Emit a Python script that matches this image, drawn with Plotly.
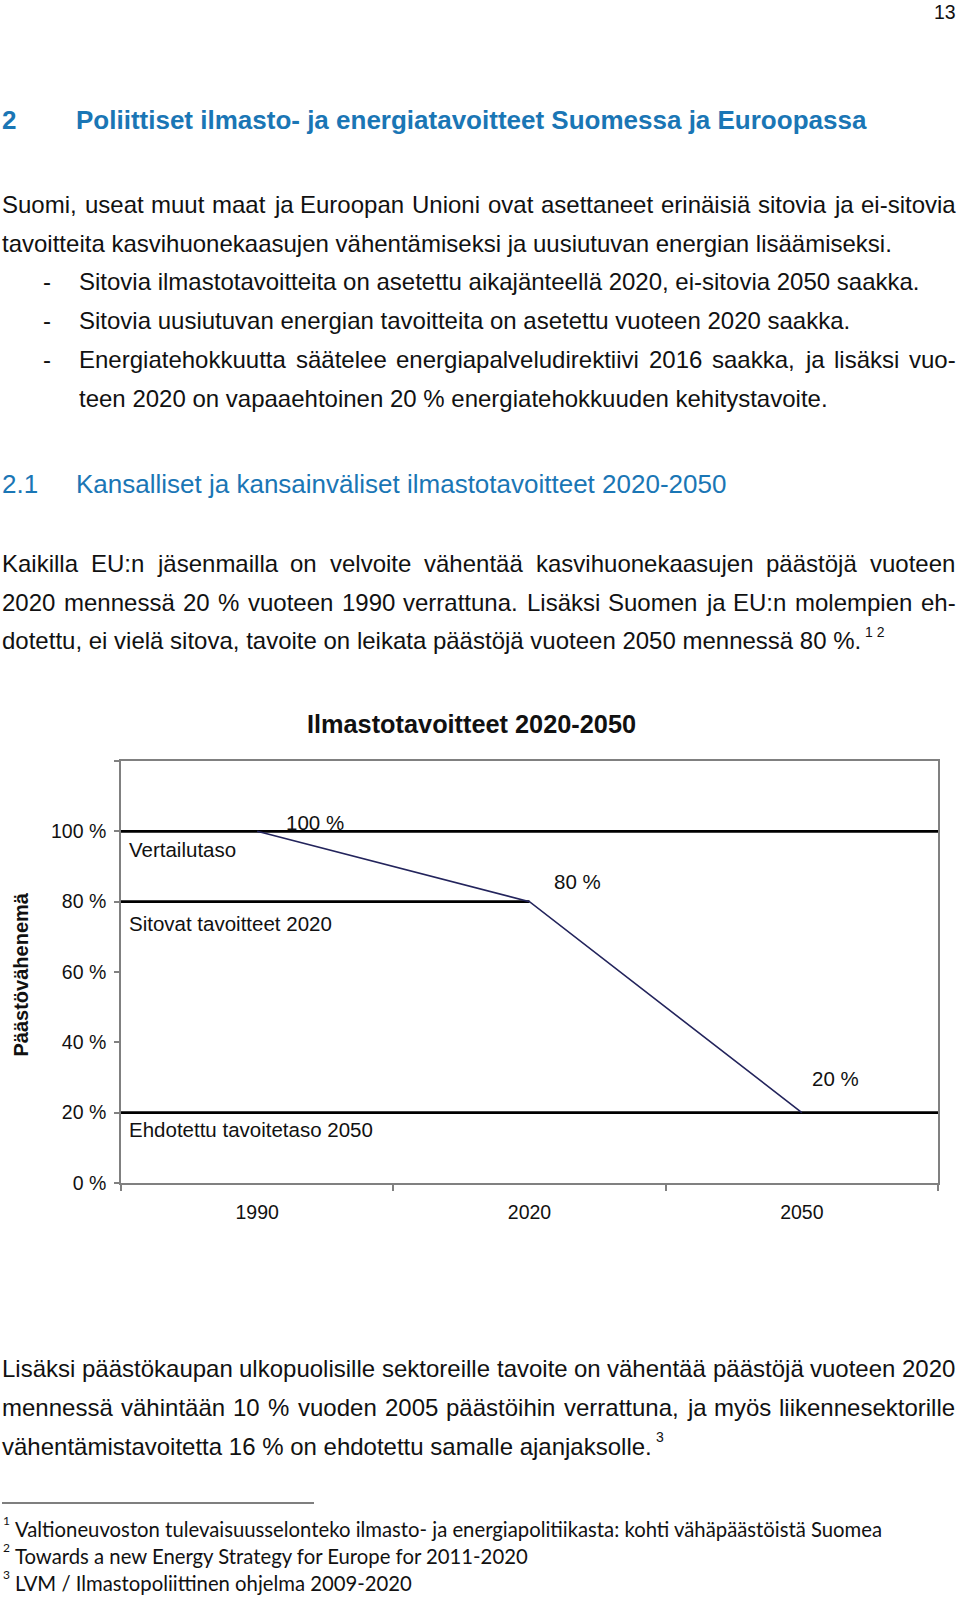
import plotly.graph_objects as go

# ---------------- data ----------------
years = ["1990", "2020", "2050"]
emissions = [100, 80, 20]
emission_labels = ["100 %", "80 %", "20 %"]
target_levels = [100, 80, 20]
target_names = ["Vertailutaso", "Sitovat tavoitteet 2020", "Ehdotettu tavoitetaso 2050"]
target_ends = [None, "2020", None]          # None = across the whole plot
y_ticks = [0, 20, 40, 60, 80, 100, 120]
y_tick_labels = ["0 %", "20 %", "40 %", "60 %", "80 %", "100 %", ""]
chart_title = "Ilmastotavoitteet 2020-2050"
y_title = "Päästövähenemä"

page_number = "13"
heading_number = "2"
heading = "Poliittiset ilmasto- ja energiatavoitteet Suomessa ja Euroopassa"
intro_lines = [
    ("Suomi, useat muut maat ja Euroopan Unioni ovat asettaneet erinäisiä sitovia ja ei-sitovia", True),
    ("tavoitteita kasvihuonekaasujen vähentämiseksi ja uusiutuvan energian lisäämiseksi.", False),
]
bullet_lines = [
    ("-", "Sitovia ilmastotavoitteita on asetettu aikajänteellä 2020, ei-sitovia 2050 saakka.", False),
    ("-", "Sitovia uusiutuvan energian tavoitteita on asetettu vuoteen 2020 saakka.", False),
    ("-", "Energiatehokkuutta säätelee energiapalveludirektiivi 2016 saakka, ja lisäksi vuo-", True),
    ("", "teen 2020 on vapaaehtoinen 20 % energiatehokkuuden kehitystavoite.", False),
]
subheading_number = "2.1"
subheading = "Kansalliset ja kansainväliset ilmastotavoitteet 2020-2050"
para2_lines = [
    ("Kaikilla EU:n jäsenmailla on velvoite vähentää kasvihuonekaasujen päästöjä vuoteen", True),
    ("2020 mennessä 20 % vuoteen 1990 verrattuna. Lisäksi Suomen ja EU:n molempien eh-", True),
    ("dotettu, ei vielä sitova, tavoite on leikata päästöjä vuoteen 2050 mennessä 80 %.", False),
]
para2_sup = "1 2"
para3_lines = [
    ("Lisäksi päästökaupan ulkopuolisille sektoreille tavoite on vähentää päästöjä vuoteen 2020", True),
    ("mennessä vähintään 10 % vuoden 2005 päästöihin verrattuna, ja myös liikennesektorille", True),
    ("vähentämistavoitetta 16 % on ehdotettu samalle ajanjaksolle.", False),
]
para3_sup = "3"
footnote_marks = ["1", "2", "3"]
footnotes = [
    "Valtioneuvoston tulevaisuusselonteko ilmasto- ja energiapolitiikasta: kohti vähäpäästöistä Suomea",
    "Towards a new Energy Strategy for Europe for 2011-2020",
    "LVM / Ilmastopoliittinen ohjelma 2009-2020",
]

# ---------------- layout constants ----------------
W, H = 960, 1598
PL, PR, PT, PB = 121, 938, 761, 1183
BODY = "Liberation Sans, Arial, sans-serif"
FOOT = "Lato, Carlito, Calibri, sans-serif"
BLUE = "#1a76b5"
INK = "#111111"
AXIS = "#808080"
BODY_SIZE = 24
PITCH = 38.7
PAD = 2.5   # annotation inner padding
TEXT_L, TEXT_R, BULLET_X, BULLET_TEXT_X = 2.5 - PAD, 956 - PAD, 43 - PAD, 79.5 - PAD

# Arial / Helvetica advance widths (1/1000 em)
HELV = {' ': 278, ',': 278, '.': 278, ':': 278, ';': 278, '-': 333, '%': 889, '/': 278}
for d in "0123456789":
    HELV[d] = 556
HELV.update(dict(zip("abcdefghijklmnopqrstuvwxyz",
                     [556, 556, 500, 556, 556, 278, 556, 556, 222, 222, 500, 222, 833,
                      556, 556, 556, 556, 333, 500, 278, 556, 500, 722, 500, 500, 500])))
HELV.update(dict(zip("ABCDEFGHIJKLMNOPQRSTUVWXYZ",
                     [667, 667, 722, 722, 667, 611, 778, 722, 278, 500, 667, 556, 833,
                      722, 778, 667, 778, 722, 667, 611, 722, 667, 944, 667, 667, 611])))
HELV.update({'ä': 556, 'ö': 556, 'å': 556, 'Ä': 667, 'Ö': 778})

fig = go.Figure()


def px(x):
    return (x - PL) / (PR - PL)


def py(y):
    return (PB - y) / (PB - PT)


def text(s, x, y, size, color=INK, family=BODY, anchor="left", angle=0):
    fig.add_annotation(text=s, x=px(x), y=py(y), xref="paper", yref="paper",
                       xanchor=anchor, yanchor="middle", showarrow=False,
                       textangle=angle, font=dict(size=size, color=color, family=family))


def line_of_text(s, y, x0, justify, size=BODY_SIZE):
    if not justify:
        text(s, x0, y, size)
        return
    words = s.split(" ")
    widths = [sum(HELV.get(c, 556) for c in w) * size / 1000 for w in words]
    gap = (TEXT_R - x0 - sum(widths)) / (len(words) - 1)
    x = x0
    for w, wd in zip(words, widths):
        text(w, x, y, size)
        x += wd + gap


# ---------------- chart ----------------
for lvl, end in zip(target_levels, target_ends):
    x_end = years.index(end) if end else len(years) - 0.5
    fig.add_trace(go.Scatter(x=[-0.5, x_end], y=[lvl, lvl], mode="lines",
                             line=dict(color="#000000", width=2.6),
                             hoverinfo="skip", showlegend=False))

fig.add_trace(go.Scatter(x=list(range(len(years))), y=emissions, mode="lines",
                         line=dict(color="#23245c", width=1.6),
                         hoverinfo="skip", showlegend=False))

label_shift = [(58, 9), (48, 20), (34, 34)]
for i, (lab, v) in enumerate(zip(emission_labels, emissions)):
    fig.add_annotation(x=i, y=v, text=lab, showarrow=False, xanchor="center", yanchor="middle",
                       xshift=label_shift[i][0], yshift=label_shift[i][1],
                       font=dict(size=20.5, color=INK, family=BODY))

name_shift = [-18, -22, -17]
for lvl, name, ys in zip(target_levels, target_names, name_shift):
    fig.add_annotation(x=-0.5, y=lvl, text=name, showarrow=False, xanchor="left",
                       yanchor="middle", xshift=6, yshift=ys,
                       font=dict(size=20.5, color=INK, family=BODY))

fig.update_xaxes(range=[-0.5, len(years) - 0.5], tickmode="array",
                 tickvals=list(range(len(years))), ticktext=years, ticks="",
                 ticklabelstandoff=11,
                 minor=dict(tickmode="array", tickvals=[i - 0.5 for i in range(len(years) + 1)],
                            ticks="outside", ticklen=6, tickcolor=AXIS, tickwidth=1.5),
                 showline=True, linecolor=AXIS, linewidth=1.6, mirror=True,
                 showgrid=False, zeroline=False,
                 tickfont=dict(size=19.5, color=INK, family=BODY))
fig.update_yaxes(range=[0, 120], tickmode="array", tickvals=y_ticks, ticktext=y_tick_labels,
                 ticks="outside", ticklen=5, tickcolor=AXIS, tickwidth=1.5,
                 ticklabelstandoff=4,
                 showline=True, linecolor=AXIS, linewidth=1.6, mirror=True,
                 showgrid=False, zeroline=False,
                 tickfont=dict(size=19.5, color=INK, family=BODY))

text("<b>" + chart_title + "</b>", 471.5, 723.5, 25.3, anchor="center")
text("<b>" + y_title + "</b>", 20.5, 975, 20, angle=-90, anchor="center")

# ---------------- page text ----------------
text(page_number, 958, 12, 19.5, anchor="right")
text("<b>" + heading_number + "</b>", 2 - PAD, 120.5, 26, color=BLUE)
text("<b>" + heading + "</b>", 76.4 - PAD, 120.5, 26, color=BLUE)

y = 204.5
for s, j in intro_lines:
    line_of_text(s, y, TEXT_L, j)
    y += PITCH
for mark, s, j in bullet_lines:
    if mark:
        text(mark, BULLET_X, y, BODY_SIZE)
    line_of_text(s, y, BULLET_TEXT_X, j)
    y += PITCH

text(subheading_number, 2 - PAD, 484, 26, color=BLUE)
text(subheading, 76.4 - PAD, 484, 26, color=BLUE)

y = 563.5
for s, j in para2_lines:
    line_of_text(s, y, TEXT_L, j)
    y += PITCH
text(para2_sup, 863, 632, 14)

y = 1368.6
for s, j in para3_lines:
    line_of_text(s, y, TEXT_L, j)
    y += PITCH
text(para3_sup, 654, 1437, 14)

fig.add_shape(type="line", xref="paper", yref="paper", x0=px(2), x1=px(314),
              y0=py(1503), y1=py(1503), line=dict(color="#000000", width=1.2))
for k, (m, s) in enumerate(zip(footnote_marks, footnotes)):
    fy = 1528.6 + k * 27
    text(m, 1, fy - 8, 12, family=FOOT)
    text(s, 12.5, fy, 20.3, family=FOOT)

fig.update_layout(width=W, height=H, margin=dict(l=PL, r=W - PR, t=PT, b=H - PB),
                  paper_bgcolor="white", plot_bgcolor="white", showlegend=False)

fig.write_html("out.html", config={"displayModeBar": False},
               post_script="document.body.style.margin='0';document.body.style.overflow='hidden';")
